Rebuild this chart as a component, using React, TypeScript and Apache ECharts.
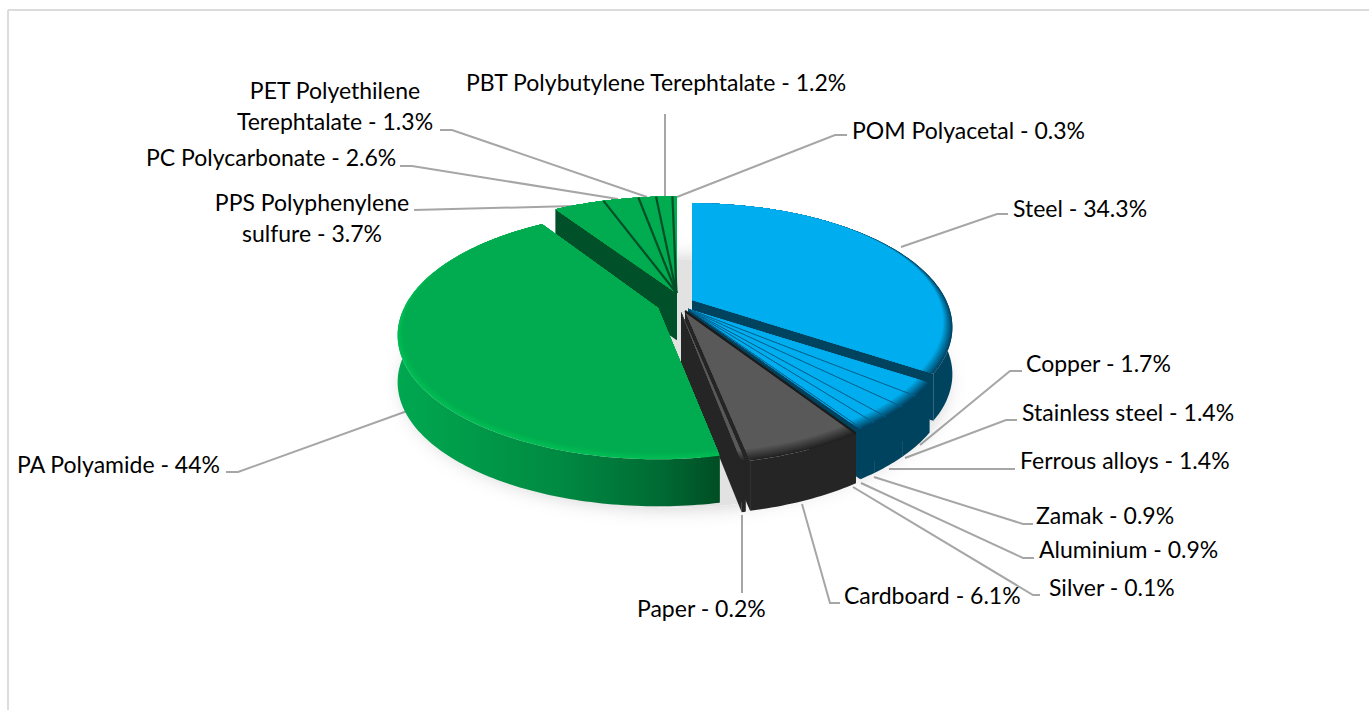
import React, { useEffect, useRef } from "react";
import * as echarts from "echarts";

const materials = [
  "Steel", "Copper", "Stainless steel", "Ferrous alloys", "Zamak", "Aluminium", "Silver",
  "Cardboard", "Paper", "PA Polyamide", "PPS Polyphenylene\nsulfure", "PC Polycarbonate",
  "PET Polyethilene\nTerephtalate", "PBT Polybutylene Terephtalate", "POM Polyacetal",
];
const shares = [34.3, 1.7, 1.4, 1.4, 0.9, 0.9, 0.1, 6.1, 0.2, 44, 3.7, 2.6, 1.3, 1.2, 0.3];
const families = ["metal", "metal", "metal", "metal", "metal", "metal", "metal", "paper", "paper", "plastic", "plastic", "plastic", "plastic", "plastic", "plastic"];

// Painter's order: back slices first, the large front slice last.
const paintOrder = [14, 13, 12, 11, 10, 0, 1, 2, 3, 4, 5, 6, 7, 8, 9];

// Projection of the tilted disc
const KP = 0.22;
const RY = 118;
const DEPTH = 47;
const blueShape = { ax: 688, ay: 309, r: 254, ry: 118, d: 50 };
const greenShape = { ax: 676.5, ay: 293, r: 265, ry: 118, d: 47 };
const SHAPE: any = {
  0: { ax: 692, ay: 300, r: 254, ry: RY, d: DEPTH },
  1: blueShape, 2: blueShape, 3: blueShape, 4: blueShape, 5: blueShape, 6: blueShape,
  7: { ax: 685, ay: 311, r: 252, ry: 120, d: 50 },
  8: { ax: 681, ay: 312, r: 250, ry: 120, d: 50 },
  9: { ax: 658, ay: 308, r: 254, ry: RY, d: DEPTH },
  10: greenShape, 11: greenShape, 12: greenShape, 13: greenShape, 14: greenShape,
};
const STYLE: any = {
  metal: { top: "#00aeef", rim: "#004565", wall: "#00435f", edge: "#00618f", edgeW: 1, bevel: 0.06 },
  paper: { top: "#595959", rim: "#222222", wall: "#252525", edge: "#1a1a1a", edgeW: 2.2, bevel: 0.06 },
  plastic: { top: "#00ac4f", rim: "#00be55", wall: "#00502a", edge: "#004f27", edgeW: 2.2, bevel: 0.035 },
};

// Label placement: [left or centre x, middle y, align]
const labelPlaces: any[] = [
  [1013, 208, "left"], [1026, 363, "left"], [1022, 412, "left"], [1020, 460, "left"], [1036, 515, "left"],
  [1039, 549, "left"], [1049, 587, "left"], [844, 595, "left"], [637, 608, "left"], [17, 464, "left"],
  [312, 217, "center"], [146, 157, "left"], [335, 105, "center"], [466, 82, "left"], [852, 130, "left"],
];
const leaderPaths: number[][][] = [
  [[901, 247], [997, 214], [1008, 214]],
  [[920, 445], [1010, 371], [1022, 371]],
  [[905, 458], [1006, 420], [1017, 420]],
  [[889, 469], [1015, 469]],
  [[874, 477], [1023, 524], [1033, 524]],
  [[861, 483], [1023, 558], [1034, 558]],
  [[853, 487], [1033, 595], [1040, 595]],
  [[802, 504], [830, 603], [840, 603]],
  [[742, 515], [742, 593]],
  [[410, 410], [238, 472], [226, 472]],
  [[573, 206], [414, 210]],
  [[618, 199], [412, 166], [400, 166]],
  [[647, 197], [452, 130], [440, 130]],
  [[665, 197], [665, 114]],
  [[677, 197], [835, 135], [847, 135]],
];

const total = shares.reduce((a, b) => a + b, 0);
const cumulative: number[] = [];
shares.reduce((acc, v, i) => { cumulative[i] = acc; return acc + v; }, 0);

function hex(c: string) {
  return [1, 3, 5].map((i) => parseInt(c.slice(i, i + 2), 16));
}
function mix(a: string, b: string, t: number) {
  const A = hex(a), B = hex(b);
  return `rgb(${A.map((v, i) => Math.round(v + (B[i] - v) * t)).join(",")})`;
}
function project(s: any, deg: number, rho: number, dz = 0) {
  const th = (deg * Math.PI) / 180;
  const X = rho * Math.sin(th);
  const Y = -rho * Math.cos(th);
  const w = 1 - KP * Y;
  return [s.ax + (s.r * X) / w, s.ay + (s.ry * Y) / w + dz];
}
function arc(a1: number, a2: number) {
  const out: number[] = [];
  const n = Math.max(1, Math.ceil(a2 - a1));
  for (let i = 0; i <= n; i++) out.push(a1 + ((a2 - a1) * i) / n);
  return out;
}
function frontness(deg: number) {
  const Y = -Math.cos((deg * Math.PI) / 180);
  return Math.max(0, (Y + 0.85) / 1.85);
}

function sliceElements(i: number) {
  const s = SHAPE[i];
  const st = STYLE[families[i]];
  const a1 = (cumulative[i] / total) * 360;
  const a2 = ((cumulative[i] + shares[i]) / total) * 360;
  const angles = arc(a1, a2);
  const els: any[] = [];
  const rimTop = angles.map((a) => project(s, a, 1));
  const rimBot = angles.map((a) => project(s, a, 1, s.d)).reverse();
  const apex = [s.ax, s.ay];
  const apexB = [s.ax, s.ay + s.d];
  const wallFill =
    i === 9
      ? new echarts.graphic.LinearGradient(1, 0, 0, 0, [
          { offset: 0, color: "#004d24" },
          { offset: 0.18, color: "#006a33" },
          { offset: 0.5, color: "#008a42" },
          { offset: 1, color: "#00a850" },
        ])
      : st.wall;
  // cut faces
  const startRim = project(s, a1, 1), endRim = project(s, a2, 1);
  els.push({ type: "polygon", shape: { points: [apex, startRim, project(s, a1, 1, s.d), apexB] }, style: { fill: st.wall } });
  els.push({ type: "polygon", shape: { points: [apex, endRim, project(s, a2, 1, s.d), apexB] }, style: { fill: st.wall } });
  // outer wall
  els.push({ type: "polygon", shape: { points: [...rimTop, ...rimBot] }, style: { fill: wallFill } });
  // top face, with a stepped bevel towards the rim
  const steps = 10;
  for (let k = 0; k <= steps; k++) {
    const t = k / steps;
    const pts = [apex, ...angles.map((a) => project(s, a, 1 - st.bevel * frontness(a) * t))];
    els.push({ type: "polygon", shape: { points: pts }, style: { fill: mix(st.rim, st.top, t) } });
  }
  // separating edge between neighbouring slices of one family
  const sep = families[i] === "plastic" ? (i >= 10 && i < 14 ? endRim : null) : (i >= 2 && i <= 6 ? startRim : null);
  if (sep) {
    els.push({
      type: "line",
      shape: { x1: apex[0], y1: apex[1], x2: sep[0], y2: sep[1] },
      style: { stroke: st.edge, lineWidth: st.edgeW, fill: "none" },
    });
  }
  if (i === 7) {
    els.push({
      type: "line",
      shape: { x1: apex[0], y1: apex[1], x2: startRim[0], y2: startRim[1] },
      style: { stroke: st.edge, lineWidth: st.edgeW, fill: "none" },
    });
  }
  return els;
}

export default function App() {
  const ref = useRef<HTMLDivElement>(null);
  useEffect(() => {
    document.body.style.margin = "0";
    const chart = echarts.init(ref.current!, null, { renderer: "svg" });
    const labelEls = materials.map((name, i) => ({
      type: "text",
      x: labelPlaces[i][0],
      y: labelPlaces[i][1],
      style: {
        text: `${name} - ${shares[i]}%`,
        fontFamily: "Lato, 'Open Sans', sans-serif",
        fontSize: 23,
        lineHeight: 31,
        fill: "#000",
        textAlign: labelPlaces[i][2],
        textVerticalAlign: "middle",
      },
    }));
    const leaderEls = leaderPaths.map((points) => ({
      type: "polyline",
      shape: { points },
      style: { stroke: "#a6a6a6", lineWidth: 2, fill: "none" },
    }));
    chart.setOption({
      animation: false,
      backgroundColor: "#fff",
      graphic: [
        { type: "line", shape: { x1: 8, y1: 10, x2: 1369, y2: 10 }, style: { stroke: "#dcdcdc", lineWidth: 2 } },
        { type: "line", shape: { x1: 8, y1: 10, x2: 8, y2: 710 }, style: { stroke: "#dcdcdc", lineWidth: 2 } },
        ...leaderEls,
        ...labelEls,
      ],
      series: [
        {
          type: "custom",
          coordinateSystem: "none",
          silent: true,
          z: 1,
          data: [[0]],
          renderItem: () => {
            const s = { ax: 675, ay: 305, r: 264, ry: RY };
            const pts = arc(0, 360).map((a) => project(s, a, 1, DEPTH + 4));
            return {
              type: "polygon",
              shape: { points: pts },
              style: { fill: "#e2e2e2", shadowBlur: 20, shadowColor: "rgba(0,0,0,0.2)" },
            };
          },
        },
        {
          type: "custom",
          coordinateSystem: "none",
          silent: true,
          z: 2,
          data: paintOrder.map((i) => ({ name: materials[i], value: [shares[i], i] })),
          renderItem: (_p: any, api: any) => ({
            type: "group",
            children: sliceElements(api.value(1)),
          }),
        },
      ],
    });
    return () => chart.dispose();
  }, []);
  return <div ref={ref} style={{ position: "absolute", left: 0, top: 0, width: 1369, height: 710 }} />;
}
